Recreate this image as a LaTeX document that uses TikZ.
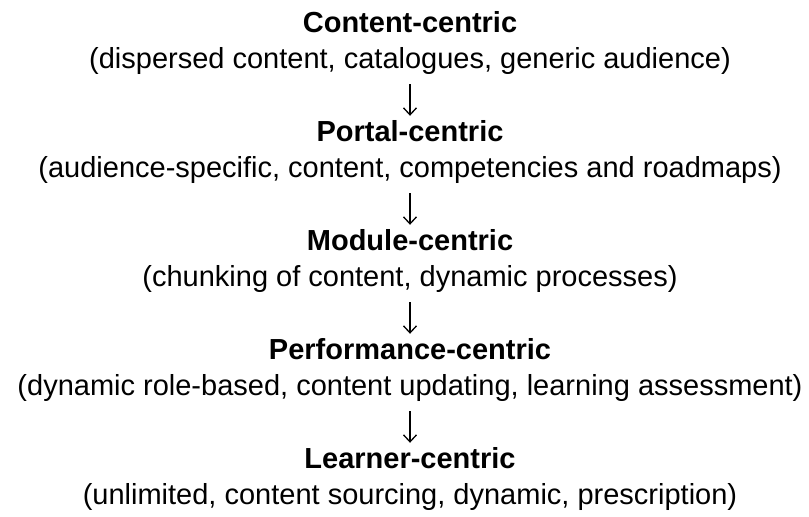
\documentclass[tikz,border=0pt]{standalone}
\usepackage{fontspec}
\setmainfont{Liberation Sans}
\usetikzlibrary{arrows.meta}

\begin{document}
\begin{tikzpicture}[x=1pt, y=1pt,
	head/.style={font=\fontsize{29}{34}\selectfont\bfseries, anchor=base, inner sep=0pt},
	detail/.style={font=\fontsize{29}{34}\selectfont, anchor=base, inner sep=0pt},
	flow/.style={-{Straight Barb[length=7pt, width=13pt]}, line width=1.3pt, shorten <=10pt, shorten >=4pt}]
	\useasboundingbox (0,0) rectangle (809,-517);
	% one stage per block: bold heading, details in brackets below
	\foreach \i/\stage/\what in {
		0/Content/{dispersed content, catalogues, generic audience},
		1/Portal/{audience-specific, content, competencies and roadmaps},
		2/Module/{chunking of content, dynamic processes},
		3/Performance/{dynamic role-based, content updating, learning assessment},
		4/Learner/{unlimited, content sourcing, dynamic, prescription}}
	{
		\node[head] (head\i) at (410, -32-109*\i) {\stage-centric};
		\node[detail] (detail\i) at (410, -68-109*\i) {(\what)};
	}
	\foreach \i/\j in {0/1, 1/2, 2/3, 3/4}
		\draw[flow] (detail\i) -- (head\j);
\end{tikzpicture}
\end{document}
